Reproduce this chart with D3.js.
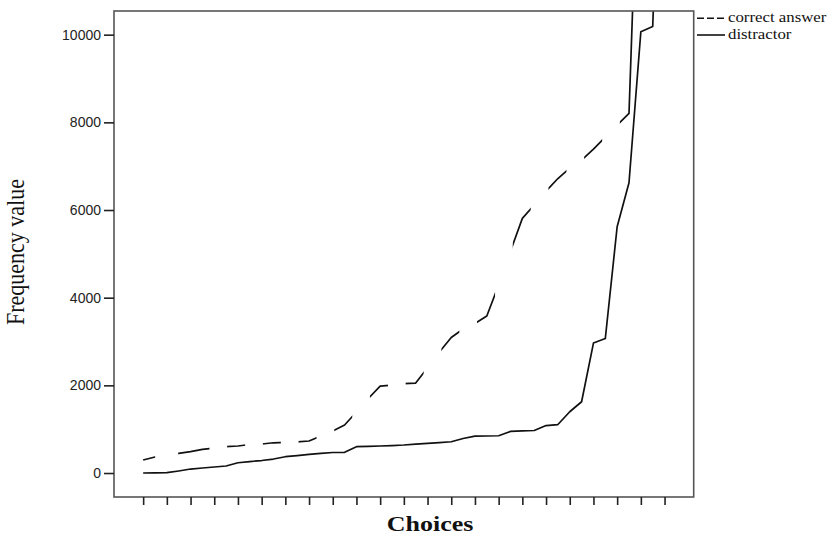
<!DOCTYPE html>
<html>
<head>
<meta charset="utf-8">
<script src="https://cdn.jsdelivr.net/npm/d3@7.9.0/dist/d3.min.js"></script>
<style>
  body { margin: 0; background: #fff; }
  svg { display: block; }
</style>
</head>
<body>
<svg id="chart" width="834" height="537"></svg>
<script>
// sorted frequency values for each choice
const choices = d3.range(1, 46);
const correctAnswer = [297, 365, 410, 449, 490, 540, 570, 600, 616, 650, 661, 690, 700, 712, 730,
  844, 958, 1095, 1391, 1700, 1984, 2007, 2041, 2053, 2400, 2760, 3091, 3285, 3410, 3581,
  4288, 5064, 5810, 6113, 6432, 6718, 6957, 7140, 7390, 7664, 7938, 8205, 16000, 20000, 30000];
const distractor = [0, 5, 7, 46, 91, 114, 137, 160, 235, 262, 285, 319, 372, 399, 427,
  449, 468, 472, 600, 609, 616, 627, 639, 657, 677, 695, 714, 787, 840, 845,
  850, 950, 960, 970, 1083, 1106, 1398, 1626, 2965, 3068, 5618, 6622, 10066, 10185, 17500];
const yTicks = [0, 2000, 4000, 6000, 8000, 10000];
const seriesNames = ['correct answer', 'distractor'];

const plot = { left: 114, right: 693.7, top: 11, bottom: 497 };

const svg = d3.select('#chart');

const x = d3.scalePoint()
  .domain(choices)
  .range([plot.left, plot.right])
  .padding(2.46);

const y = d3.scaleLinear()
  .domain([-547, 10540])
  .range([plot.bottom, plot.top]);

// clip to the frame
svg.append('clipPath').attr('id', 'plotClip')
  .append('rect')
  .attr('x', plot.left).attr('y', plot.top)
  .attr('width', plot.right - plot.left).attr('height', plot.bottom - plot.top);

// dashes of the correct-answer line run along x, so use vertical bands
const dashPeriod = 35.7, dashLen = 18;
const dashStarts = d3.range(x(41) + 2.7 - 14 * dashPeriod, plot.right, dashPeriod);
dashStarts[0] = x(1) - 6;
dashStarts[1] = x(1) + 35;
svg.append('clipPath').attr('id', 'dashClip')
  .selectAll('rect')
  .data(dashStarts)
  .join('rect')
  .attr('x', d => d)
  .attr('y', plot.top)
  .attr('width', (d, i) => i === 1 ? 24 : dashLen)
  .attr('height', plot.bottom - plot.top);

const line = d3.line()
  .x((d, i) => x(choices[i]))
  .y(d => y(d));

svg.append('path')
  .attr('d', line(distractor))
  .attr('fill', 'none')
  .attr('stroke', '#111')
  .attr('stroke-width', 1.7)
  .attr('stroke-linejoin', 'round')
  .attr('clip-path', 'url(#plotClip)');

svg.append('path')
  .attr('d', line(correctAnswer))
  .attr('fill', 'none')
  .attr('stroke', '#111')
  .attr('stroke-width', 1.7)
  .attr('stroke-linejoin', 'round')
  .attr('clip-path', 'url(#dashClip)');

// frame
svg.append('rect')
  .attr('x', plot.left).attr('y', plot.top)
  .attr('width', plot.right - plot.left).attr('height', plot.bottom - plot.top)
  .attr('fill', 'none')
  .attr('stroke', '#555')
  .attr('stroke-width', 1.6);

// y axis
const yAxis = svg.append('g')
  .attr('transform', `translate(${plot.left},0)`)
  .call(d3.axisLeft(y).tickValues(yTicks).tickSize(10).tickPadding(3).tickFormat(d3.format('d')));
yAxis.select('.domain').remove();
yAxis.selectAll('.tick line').attr('stroke', '#222').attr('stroke-width', 1.6);
yAxis.selectAll('.tick text')
  .attr('font-family', '"Liberation Sans", Arial, sans-serif')
  .attr('font-size', 14)
  .attr('fill', '#222');

// x axis, ticks only
const xAxis = svg.append('g')
  .attr('transform', `translate(0,${plot.bottom})`)
  .call(d3.axisBottom(x).tickValues(choices.filter((d, i) => i % 2 === 0)).tickSize(8).tickFormat(''));
xAxis.select('.domain').remove();
xAxis.selectAll('.tick line').attr('stroke', '#222').attr('stroke-width', 1.6);

// axis titles
svg.append('text')
  .attr('transform', 'translate(24,252) rotate(-90) scale(1,1.15)')
  .attr('text-anchor', 'middle')
  .attr('font-family', '"Liberation Serif", "Times New Roman", serif')
  .attr('font-size', 22)
  .attr('fill', '#111')
  .text('Frequency value');

svg.append('text')
  .attr('transform', 'translate(430,531) scale(1.3,1)')
  .attr('text-anchor', 'middle')
  .attr('font-family', '"Liberation Serif", "Times New Roman", serif')
  .attr('font-weight', 'bold')
  .attr('font-size', 20)
  .attr('fill', '#111')
  .text('Choices');

// legend
const legend = svg.append('g');
seriesNames.forEach((name, i) => {
  const ly = 18.3 + i * 16.7;
  legend.append('line')
    .attr('x1', 697).attr('x2', 725)
    .attr('y1', ly).attr('y2', ly)
    .attr('stroke', '#111')
    .attr('stroke-width', 1.6)
    .attr('stroke-dasharray', i === 0 ? '7,3' : null);
  legend.append('text')
    .attr('transform', `translate(728,${ly + 4}) scale(1.2,1)`)
    .attr('font-family', '"Liberation Serif", "Times New Roman", serif')
    .attr('font-size', 14)
    .attr('fill', '#111')
    .text(name);
});
</script>
</body>
</html>
